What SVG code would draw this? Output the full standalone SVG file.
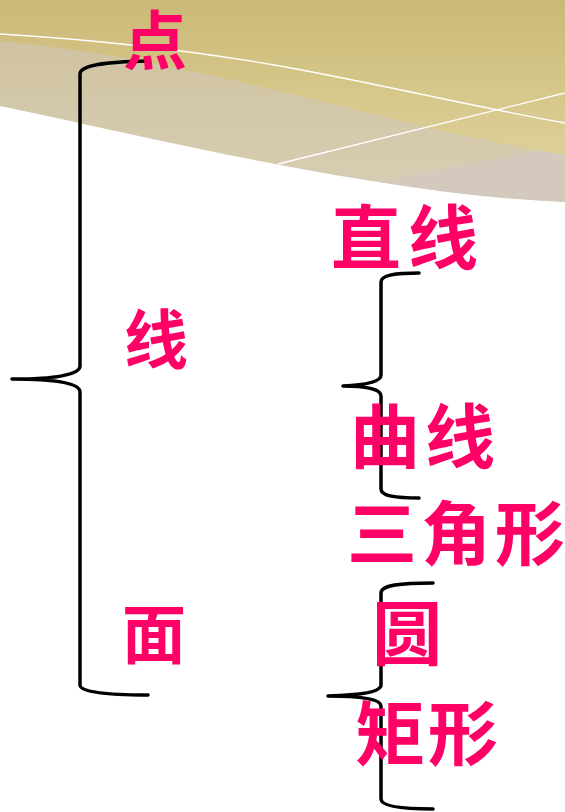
<svg xmlns="http://www.w3.org/2000/svg" width="565" height="812" viewBox="0 0 565 812">
<defs>
<linearGradient id="gold" x1="0" y1="0" x2="0" y2="155" gradientUnits="userSpaceOnUse">
<stop offset="0" stop-color="#CBB976"/>
<stop offset="1" stop-color="#DDD097"/>
</linearGradient>
<linearGradient id="grey" x1="0" y1="40" x2="0" y2="202" gradientUnits="userSpaceOnUse">
<stop offset="0" stop-color="#CFC3A1"/>
<stop offset="1" stop-color="#D8CEB4"/>
</linearGradient>
<style>
.lbl{font-family:"Noto Sans CJK SC","Noto Sans CJK JP",sans-serif;font-weight:700;fill:#FF0066;text-anchor:middle}
.l{font-size:64px}
.r{font-size:70px}
.brace{fill:none;stroke:#000;stroke-width:3.5;stroke-linecap:round;stroke-linejoin:round}
.wl{fill:none;stroke:#FFFFFF;stroke-width:1.3}
</style>
</defs>
<rect width="565" height="812" fill="#FFFFFF"/>
<g id="banner">
<path d="M0,0 H565 V202 C480,198 380,184 280,165 C180,146 90,125 0,106 Z" fill="url(#grey)"/>
<path d="M380,182 L565,145 V202 C480,198 430,190 380,182 Z" fill="#D3CABD"/>
<path d="M0,0 H565 V155 C470,140 390,118 300,96 C200,72 100,50 0,41 Z" fill="url(#gold)"/>
<path class="wl" d="M0,34 C100,40 200,52 280,66 C380,84 470,106 565,123"/>
<path class="wl" d="M278,164 L565,93"/>
</g>
<g id="connectors">
<path class="brace" d="M148,61 C105,62 80,65 80,74 L80,366 C80,375 55,379 12,379 C55,379 80,383 80,392 L80,685 C80,692 105,695 148,695"/>
<path class="brace" d="M419,273 C395,273 381,275 381,282 L381,375 C381,382 365,385 343,386 C365,386 381,389 381,396 L381,489 C381,496 395,498 419,498"/>
<path class="brace" d="M433,583 C400,583 381,585 381,593 L381,685 C381,692 360,695 328,696 C360,696 381,699 381,706 L381,799 C381,806 400,809 433,809"/>
</g>
<g id="node-dian"><text class="lbl l" x="155" y="64">点</text></g>
<g id="node-xian"><text class="lbl l" x="156" y="363">线</text></g>
<g id="node-mian"><text class="lbl l" x="154" y="658">面</text></g>
<g id="node-zhixian"><text class="lbl r" x="366 443" y="264">直线</text></g>
<g id="node-quxian"><text class="lbl r" x="385 460" y="463">曲线</text></g>
<g id="node-sanjiaoxing"><text class="lbl r" x="382 456 530" y="560">三角形</text></g>
<g id="node-yuan"><text class="lbl r" x="407" y="660">圆</text></g>
<g id="node-juxing"><text class="lbl r" x="390 463" y="760">矩形</text></g>
</svg>
